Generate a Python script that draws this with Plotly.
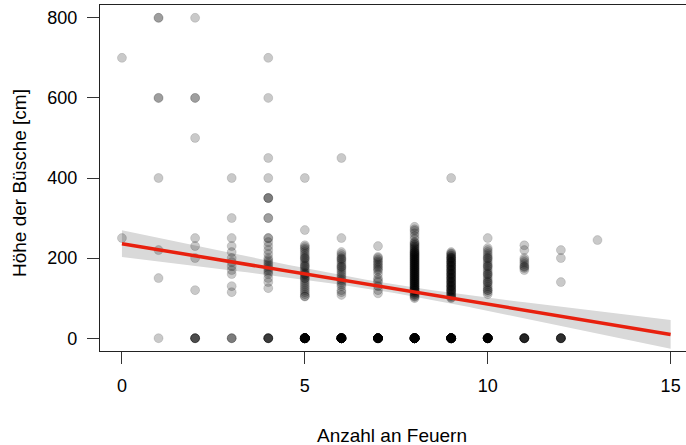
import numpy as np
import plotly.graph_objects as go

# Höhe der Büsche [cm] (Werte > 0) je Anzahl an Feuern 0..13
hoehe_0 = [700, 250]
hoehe_1 = [800, 800, 600, 600, 400, 220, 150]
hoehe_2 = [800, 600, 600, 500, 250, 230, 200, 120]
hoehe_3 = [400, 300, 250, 230, 215, 200, 190, 180, 170, 160, 130, 115]
hoehe_4 = [700, 600, 450, 400, 350, 350, 350, 300, 300, 250, 250, 240, 230, 220,
           210, 200, 195, 190, 185, 180, 175, 170, 165, 160, 150, 140, 125]
hoehe_5 = [400, 270, 232, 228, 224, 220, 215, 210, 205, 200, 200, 195, 190, 185,
           180, 180, 175, 170, 165, 160, 160, 155, 150, 145, 140, 135, 130, 125,
           120, 115, 110, 105, 104, 150]
hoehe_6 = [450, 250, 215, 210, 205, 200, 198, 195, 190, 185, 180, 178, 175, 170,
           165, 160, 155, 150, 145, 140, 135, 130, 120, 115, 108]
hoehe_7 = [230, 203, 200, 196, 192, 188, 184, 180, 176, 172, 168, 160, 150, 145,
           140, 130, 120, 112]
hoehe_8 = [278, 272, 268, 262, 255, 248,
           240, 235, 230, 225, 220, 215, 210, 205, 200, 195, 190, 185, 180, 175,
           170, 165, 160, 155, 150, 145, 140, 135, 130, 125, 120, 115, 110, 105, 100,
           238, 233, 228, 223, 218, 213, 208, 203, 198, 193, 188, 183, 178, 173,
           168, 163, 158, 153, 148, 143, 138, 133, 128, 123, 118, 113, 108, 103,
           215, 210, 205, 200, 195, 190, 185, 180, 175, 170, 165, 160, 155, 150,
           145, 140, 135, 130, 125, 120]
hoehe_9 = [400,
           215, 210, 205, 200, 195, 190, 185, 180, 175, 170, 165, 160, 155, 150,
           145, 140, 135, 130, 125, 120, 115, 110, 105, 100,
           212, 207, 202, 197, 192, 187, 182, 177, 172, 167, 162, 157, 152, 147,
           142, 137, 132, 127, 122, 117, 112, 107, 102,
           200, 190, 180, 170, 160, 150, 140, 130, 120]
hoehe_10 = [250, 225, 220, 215, 210, 205, 200, 195, 190, 185, 180, 175, 170, 165,
            160, 155, 150, 145, 140, 135, 130, 125, 120, 115, 110,
            200, 180, 160, 140, 120]
hoehe_11 = [232, 220, 200, 195, 190, 185, 180, 178, 175, 170]
hoehe_12 = [220, 200, 140]
hoehe_13 = [245]
# Anzahl Büsche mit Höhe 0 je Anzahl an Feuern 0..13
anzahl_null = [0, 1, 5, 3, 6, 27, 25, 20, 30, 25, 20, 8, 7, 0]

x_ticks = [0, 5, 10, 15]
y_ticks = [0, 200, 400, 600, 800]

gruppen = [hoehe_0, hoehe_1, hoehe_2, hoehe_3, hoehe_4, hoehe_5, hoehe_6,
           hoehe_7, hoehe_8, hoehe_9, hoehe_10, hoehe_11, hoehe_12, hoehe_13]
feuer = []
hoehe = []
for k, g in enumerate(gruppen):
    werte = g + [0] * anzahl_null[k]
    feuer += [k] * len(werte)
    hoehe += werte

# lineare Regression mit 95%-Konfidenzband
xa = np.array(feuer, float)
ya = np.array(hoehe, float)
n = len(xa)
b1, b0 = np.polyfit(xa, ya, 1)
resid = ya - (b0 + b1 * xa)
s = np.sqrt(np.sum(resid ** 2) / (n - 2))
sxx = np.sum((xa - xa.mean()) ** 2)
xg = np.linspace(0, 15, 80)
yg = b0 + b1 * xg
se = s * np.sqrt(1 / n + (xg - xa.mean()) ** 2 / sxx)
t = 1.965
lo = yg - t * se
hi = yg + t * se

fig = go.Figure()
fig.add_trace(go.Scatter(
    x=np.concatenate([xg, xg[::-1]]), y=np.concatenate([hi, lo[::-1]]),
    fill="toself", fillcolor="#d9d9d9", line=dict(width=0), mode="lines",
    hoverinfo="skip", showlegend=False))
fig.add_trace(go.Scatter(
    x=feuer, y=hoehe, mode="markers",
    marker=dict(size=9, color="rgba(0,0,0,0.21)",
                line=dict(color="rgba(0,0,0,0.12)", width=1)),
    showlegend=False))
fig.add_trace(go.Scatter(
    x=xg, y=yg, mode="lines", line=dict(color="#e8200e", width=3.5),
    showlegend=False))

font = "Liberation Sans, Arial, Helvetica, sans-serif"
fig.update_layout(
    width=686, height=445,
    margin=dict(l=100, r=0, t=5, b=94),
    paper_bgcolor="white", plot_bgcolor="white",
    font=dict(family=font, size=18, color="black"),
    xaxis=dict(range=[-0.6, 15.42], tickvals=x_ticks, ticks="outside", ticklen=12,
               tickcolor="#333", tickwidth=1, showgrid=False, zeroline=False,
               showline=True, mirror=True, linecolor="#222", linewidth=1.2,
               ticklabelstandoff=6),
    yaxis=dict(range=[-32, 832], tickvals=y_ticks, ticks="outside", ticklen=12,
               tickcolor="#333", tickwidth=1, showgrid=False, zeroline=False,
               showline=True, linecolor="#222", linewidth=1.2,
               ticklabelstandoff=6),
    annotations=[
        dict(text="Anzahl an Feuern", xref="paper", yref="paper",
             x=(392 - 100) / 586, y=(351 - 435) / 346, yanchor="middle",
             showarrow=False, font=dict(size=19)),
        dict(text="Höhe der Büsche [cm]", textangle=-90, xref="paper", yref="paper",
             x=(19 - 100) / 586, y=(351 - 183) / 346, xanchor="center",
             yanchor="middle", showarrow=False, font=dict(size=19)),
    ],
)
fig.write_html("out.html")
